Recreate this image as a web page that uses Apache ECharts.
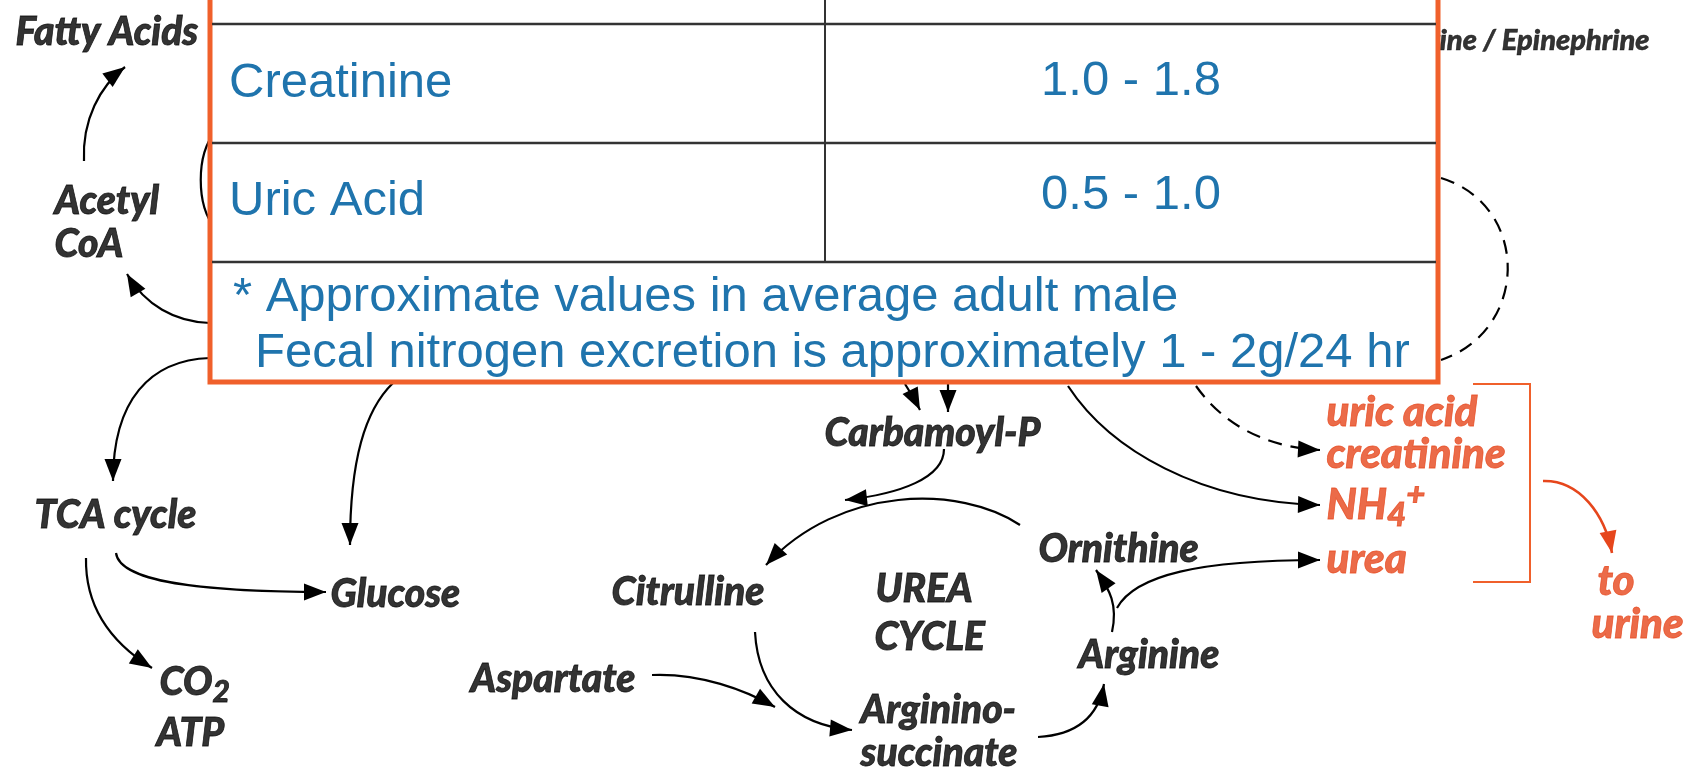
<!DOCTYPE html>
<html>
<head>
<meta charset="utf-8">
<script src="https://cdn.jsdelivr.net/npm/echarts@6/dist/echarts.min.js"></script>
<style>
html,body{margin:0;padding:0;background:#ffffff;}
#chart{width:1686px;height:767px;}
</style>
</head>
<body>
<div id="chart"></div>
<script>
// ---------------- data ----------------
const pathwayNodes = ['Fatty Acids','Acetyl','CoA','TCA cycle','Glucose','CO{sub|2}','ATP','Carbamoyl-P','Citrulline','UREA','CYCLE','Ornithine','Arginine','Aspartate','Arginino-','succinate'];
const pathwayNodeX = [15,54,54,34,330,159,156,824,611,875,874,1038,1078,470,860,860];
const pathwayNodeY = [32,201,244,515,594,682,733,433,592,589,637,549,655,679,710,753];

const hormoneLabel = ['Norepinephrine / Epinephrine'];
const hormoneX = [1650];
const hormoneY = [41];

const excretedProducts = ['uric acid','creatinine','NH{sub|4}{sup|+}','urea'];
const excretedX = [1326,1326,1326,1326];
const excretedY = [412,454,505,559];

const destination = ['to','urine'];
const destinationX = [1597,1591];
const destinationY = [581,624];

const tableCompounds = ['Creatinine','Uric Acid'];
const tableRanges = ['1.0 - 1.8','0.5 - 1.0'];
const tableNotes = ['* Approximate values in average adult male','Fecal nitrogen excretion is approximately 1 - 2g/24 hr'];

// curves: start, control 1, control 2, end (arrow tip)
const solidArrows = [
  [84,161, 82,120, 100,86, 125,67],
  [210,323, 175,322, 145,305, 127,274],
  [210,358, 150,360, 113,400, 113,481],
  [393,383, 365,410, 350,460, 350,545],
  [116,553, 120,585, 220,592, 326,592],
  [86,558, 85,610, 115,645, 152,668],
  [905,384, 910,392, 916,402, 920,410],
  [948,384, 948,393, 948,402, 948,412],
  [944,449, 944,478, 900,494, 845,500],
  [1020,525, 960,485, 840,485, 766,565],
  [755,632, 758,690, 795,725, 852,730],
  [652,675, 700,673, 745,690, 775,707],
  [1038,737, 1075,735, 1098,718, 1104,684],
  [1112,632, 1118,605, 1110,590, 1096,570],
  [1117,608, 1135,575, 1200,560, 1320,560],
  [1068,386, 1110,450, 1200,502, 1320,505]
];
const dashedArrows = [
  [1196,386, 1220,420, 1260,447, 1320,450]
];
const plainCurves = [
  [215,132, 196,155, 196,205, 215,228]
];
const dashedCurves = [
  [1441,178, 1530,205, 1530,330, 1441,360]
];
const urineArrow = [
  [1543,481, 1580,480, 1605,515, 1612,553]
];
const bracketPoints = [[1473,384],[1530,384],[1530,582],[1473,582]];

// ---------------- layout ----------------
const W = 1686, H = 767;
const tableLayout = {
  x0: 210, y0: -20, x1: 1438, y1: 382, split: 825,
  rules: [24, 143, 262],
  nameX: 229, nameY: [83, 201],
  rangeX: 1131, rangeY: [81, 195],
  noteX: [233, 255], noteY: [297, 353]
};
const BLACK = '#000000';
const BLUE = '#1f74ad';
const ORANGE = '#f0602b';
const RED = '#e6461c';
const LABEL_FONT = 'Lato';

function richFor(color, small, shift, border) {
  const base = {fontFamily: LABEL_FONT, fontWeight: 900, fontStyle: 'italic', color: color,
    textBorderColor: color, textBorderWidth: border};
  return {
    sub: Object.assign({}, base, {fontSize: small, padding: [shift, 0, 0, 0]}),
    sup: Object.assign({}, base, {fontSize: small, padding: [0, 0, shift, 0]})
  };
}

function labelSeries(names, xs, ys, color, size, z, pos) {
  const border = size > 30 ? 0.8 : 0.5;
  return {
    type: 'scatter', z: z, silent: true, symbolSize: 1,
    itemStyle: {color: 'rgba(0,0,0,0)'},
    data: names.map((n, i) => ({name: n, value: [xs[i], ys[i]]})),
    label: {
      show: true, position: pos || 'right', distance: 0,
      formatter: p => p.name,
      color: color, fontFamily: LABEL_FONT, fontWeight: 900, fontStyle: 'italic',
      fontSize: size, textBorderColor: color, textBorderWidth: border,
      rich: richFor(color, Math.round(size * 0.78), Math.round(size * 0.5), border)
    }
  };
}

function curveSeries(rows, opt) {
  return {
    type: 'custom', coordinateSystem: 'cartesian2d', z: opt.z, silent: true,
    data: rows,
    renderItem: function (params, api) {
      const p = [0, 2, 4, 6].map(k => api.coord([api.value(k), api.value(k + 1)]));
      const a = p[0], b = p[1], c = p[2], d = p[3];
      const style = {fill: 'none', stroke: opt.color, lineWidth: opt.width};
      if (opt.dash) style.lineDash = opt.dash;
      const children = [{
        type: 'bezierCurve',
        shape: {x1: a[0], y1: a[1], cpx1: b[0], cpy1: b[1], cpx2: c[0], cpy2: c[1], x2: d[0], y2: d[1]},
        style: style
      }];
      if (opt.arrow) {
        let dx = d[0] - c[0], dy = d[1] - c[1];
        const len = Math.hypot(dx, dy) || 1;
        dx /= len; dy /= len;
        const L = 22, hw = 8.5;
        const bx = d[0] - dx * L, by = d[1] - dy * L;
        children.push({
          type: 'polygon',
          shape: {points: [[d[0], d[1]], [bx - dy * hw, by + dx * hw], [bx + dy * hw, by - dx * hw]]},
          style: {fill: opt.color}
        });
      }
      return {type: 'group', children: children};
    }
  };
}

const tableSeries = {
  type: 'custom', coordinateSystem: 'cartesian2d', z: 3, silent: true,
  data: [[tableLayout.x0, tableLayout.y0]],
  renderItem: function (params, api) {
    const t = tableLayout;
    const tl = api.coord([t.x0, t.y0]);
    const br = api.coord([t.x1, t.y1]);
    const children = [{
      type: 'rect',
      shape: {x: tl[0], y: tl[1], width: br[0] - tl[0], height: br[1] - tl[1]},
      style: {fill: '#ffffff', stroke: ORANGE, lineWidth: 5}
    }];
    t.rules.forEach(function (ry) {
      const l = api.coord([t.x0, ry]), r = api.coord([t.x1, ry]);
      children.push({type: 'line', shape: {x1: l[0] + 2, y1: l[1], x2: r[0] - 2, y2: r[1]},
        style: {stroke: '#333333', lineWidth: 2.5}});
    });
    const vt = api.coord([t.split, t.y0]), vb = api.coord([t.split, t.rules[t.rules.length - 1]]);
    children.push({type: 'line', shape: {x1: vt[0], y1: vt[1], x2: vb[0], y2: vb[1]},
      style: {stroke: '#333333', lineWidth: 2}});
    const font = '49px "Liberation Sans", Arial, sans-serif';
    tableCompounds.forEach(function (name, i) {
      const pn = api.coord([t.nameX, t.nameY[i]]);
      children.push({type: 'text', x: pn[0], y: pn[1],
        style: {text: name, fill: BLUE, font: font, align: 'left', verticalAlign: 'middle'}});
      const pr = api.coord([t.rangeX, t.rangeY[i]]);
      children.push({type: 'text', x: pr[0], y: pr[1],
        style: {text: tableRanges[i], fill: BLUE, font: font, align: 'center', verticalAlign: 'middle'}});
    });
    tableNotes.forEach(function (note, i) {
      const pn = api.coord([t.noteX[i], t.noteY[i]]);
      children.push({type: 'text', x: pn[0], y: pn[1],
        style: {text: note, fill: BLUE, font: font, align: 'left', verticalAlign: 'middle'}});
    });
    return {type: 'group', children: children};
  }
};

const chart = echarts.init(document.getElementById('chart'), null, {renderer: 'canvas', width: W, height: H});
chart.setOption({
  animation: false,
  backgroundColor: '#ffffff',
  grid: {left: 0, right: 0, top: 0, bottom: 0},
  xAxis: {type: 'value', min: 0, max: W, show: false},
  yAxis: {type: 'value', min: 0, max: H, inverse: true, show: false},
  series: [
    labelSeries(hormoneLabel, hormoneX, hormoneY, BLACK, 29, 1, 'left'),
    curveSeries(plainCurves, {z: 2, color: BLACK, width: 2.2}),
    curveSeries(dashedCurves, {z: 2, color: BLACK, width: 2.2, dash: [14, 9]}),
    curveSeries(solidArrows, {z: 2, color: BLACK, width: 2.2, arrow: true}),
    curveSeries(dashedArrows, {z: 2, color: BLACK, width: 2.2, arrow: true, dash: [14, 9]}),
    curveSeries(urineArrow, {z: 2, color: RED, width: 2.6, arrow: true}),
    {
      type: 'lines', coordinateSystem: 'cartesian2d', polyline: true, z: 2, silent: true,
      lineStyle: {color: ORANGE, width: 2, opacity: 1},
      data: [{coords: bracketPoints}]
    },
    tableSeries,
    labelSeries(pathwayNodes, pathwayNodeX, pathwayNodeY, BLACK, 39, 5),
    labelSeries(excretedProducts, excretedX, excretedY, RED, 42, 5),
    labelSeries(destination, destinationX, destinationY, RED, 42, 5)
  ]
});
</script>
</body>
</html>
